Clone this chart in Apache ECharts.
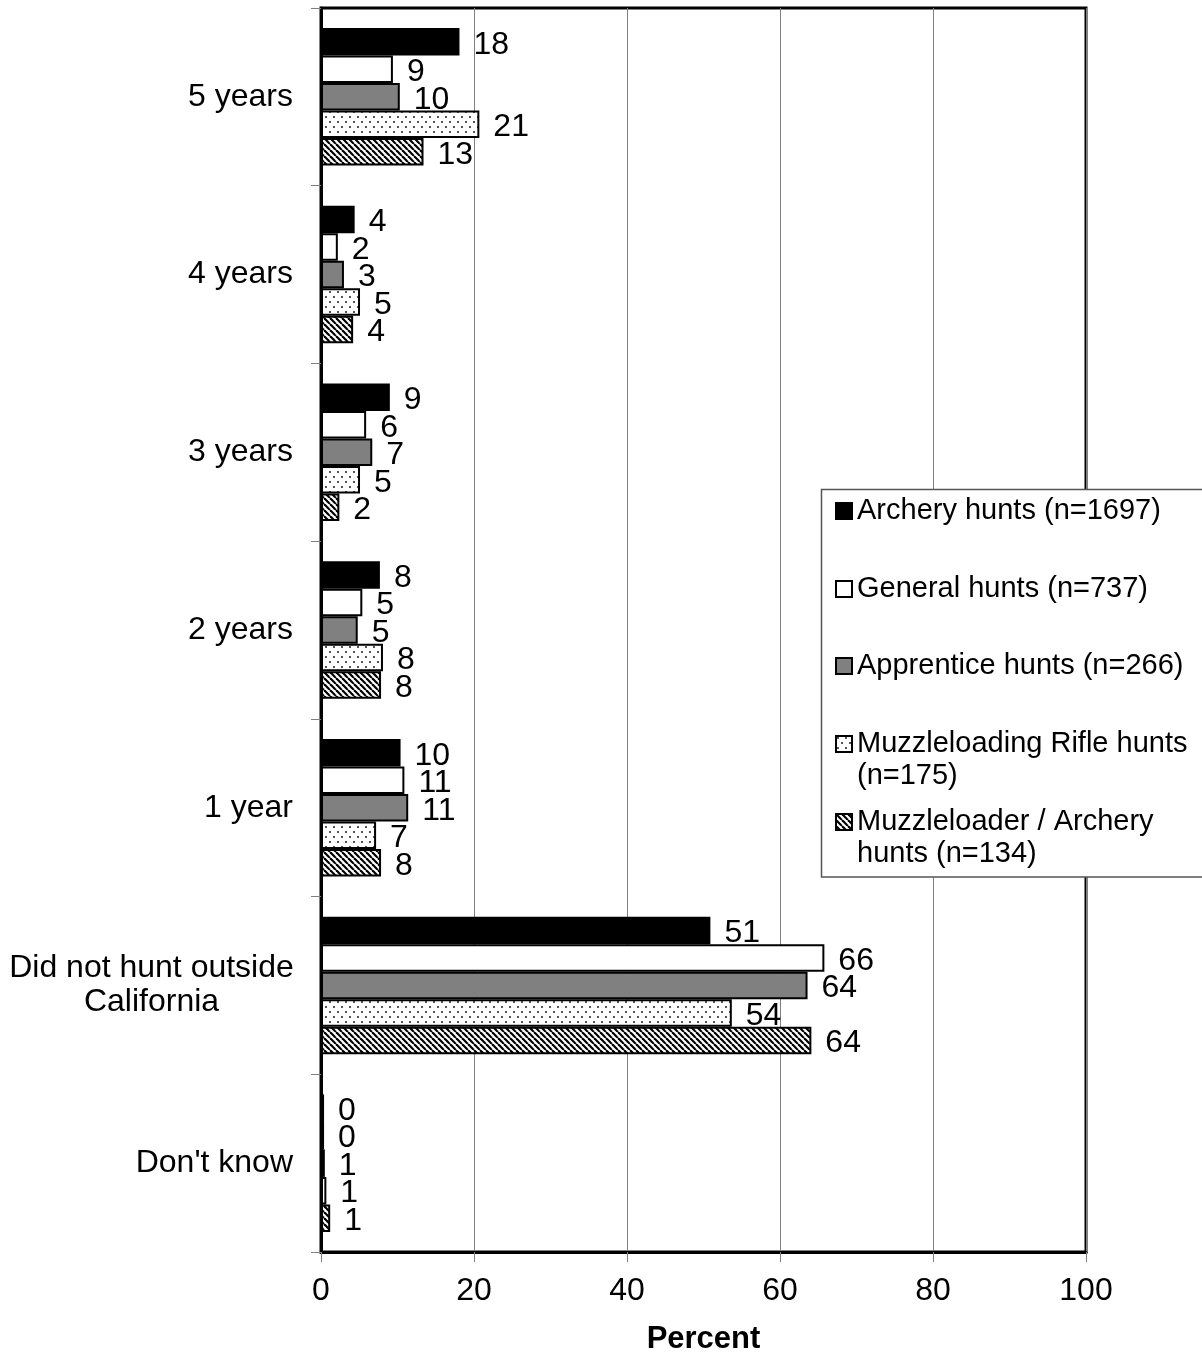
<!DOCTYPE html>
<html>
<head>
<meta charset="utf-8">
<script src="https://cdn.jsdelivr.net/npm/echarts@6/dist/echarts.min.js"></script>
<style>
  html, body { margin: 0; padding: 0; background: #fff; }
  #chart { width: 1202px; height: 1353px; }
</style>
</head>
<body>
<div id="chart"></div>
<script>
// categories top to bottom
var categories = ['5 years', '4 years', '3 years', '2 years', '1 year', 'Did not hunt outside\nCalifornia', "Don't know"];
var seriesNames = ['Archery hunts (n=1697)', 'General hunts (n=737)', 'Apprentice hunts (n=266)',
    'Muzzleloading Rifle hunts\n(n=175)', 'Muzzleloader / Archery\nhunts (n=134)'];
// percent values
var archery     = [18.1, 4.4, 9.0, 7.7, 10.4, 50.9, 0.4];
var general     = [9.4, 2.2, 5.9, 5.4, 10.9, 65.8, 0.4];
var apprentice  = [10.3, 3.0, 6.7, 4.8, 11.4, 63.6, 0.5];
var muzzRifle   = [20.7, 5.1, 5.1, 8.1, 7.2, 53.7, 0.7];
var muzzArchery = [13.4, 4.2, 2.4, 7.85, 7.85, 64.1, 1.2];
var xTicks = [0, 20, 40, 60, 80, 100];

var font = "'Liberation Sans', Arial, Helvetica, sans-serif";

// dotted fill
function dotPattern() {
    var c = document.createElement('canvas');
    c.width = 8; c.height = 10;
    var ctx = c.getContext('2d');
    ctx.fillStyle = '#fff';
    ctx.fillRect(0, 0, 8, 10);
    ctx.fillStyle = '#555';
    ctx.fillRect(1, 1, 2, 2);
    ctx.fillRect(5, 6, 2, 2);
    return {image: c, repeat: 'repeat'};
}
// diagonal hatch fill (\\\)
function hatchPattern() {
    var c = document.createElement('canvas');
    c.width = 6; c.height = 6;
    var ctx = c.getContext('2d');
    ctx.fillStyle = '#fff';
    ctx.fillRect(0, 0, 6, 6);
    ctx.strokeStyle = '#000';
    ctx.lineWidth = 2.2;
    for (var k = -1; k <= 1; k++) {
        ctx.beginPath();
        ctx.moveTo(k * 6, 0);
        ctx.lineTo(k * 6 + 6, 6);
        ctx.stroke();
    }
    return {image: c, repeat: 'repeat'};
}

var fills = ['#000000', '#ffffff', '#808080', dotPattern(), hatchPattern()];
var values = [archery, general, apprentice, muzzRifle, muzzArchery];

var myChart = echarts.init(document.getElementById('chart'));

// one legend per entry so that the two-line entries keep the square on their first line
var legendTops = [495, 573, 650, 728, 806];
var legends = seriesNames.map(function (n, i) {
    var twoLines = n.indexOf('\n') >= 0;
    return {
        data: [n],
        left: 835,
        top: legendTops[i],
        padding: 0,
        itemWidth: 16,
        itemHeight: twoLines ? 48 : 16,
        itemGap: 0,
        // square at the top of a taller icon box
        icon: twoLines ? 'path://M0,0L16,0L16,16L0,16Z M0,48L0,48' : 'rect',
        selectedMode: false,
        textStyle: {
            fontFamily: font,
            fontSize: 29,
            lineHeight: 32,
            color: '#000'
        }
    };
});

var series = values.map(function (v, i) {
    return {
        name: seriesNames[i],
        type: 'bar',
        data: v,
        barWidth: 27.5,
        barGap: '0%',
        itemStyle: {
            color: fills[i],
            borderColor: '#000',
            borderWidth: 2
        },
        label: {
            show: true,
            position: 'right',
            distance: 14,
            offset: [0, 3],
            fontFamily: font,
            fontSize: 32,
            color: '#000',
            formatter: function (p) { return Math.round(p.value); }
        },
        emphasis: {disabled: true}
    };
});

var option = {
    animation: false,
    textStyle: {fontFamily: font},
    grid: {
        left: 321,
        right: 116,
        top: 8,
        bottom: 101,
        outerBoundsMode: 'none',
        containLabel: false,
        show: true,
        borderColor: '#000',
        borderWidth: 3,
        backgroundColor: 'transparent'
    },
    legend: legends,
    graphic: {
        elements: [{
            type: 'rect',
            z: 3,
            shape: {x: 821.5, y: 489.5, width: 400, height: 387.5},
            style: {fill: '#fff', stroke: '#555', lineWidth: 1.5}
        }]
    },
    xAxis: {
        type: 'value',
        min: xTicks[0],
        max: xTicks[xTicks.length - 1],
        interval: xTicks[1] - xTicks[0],
        name: 'Percent',
        nameLocation: 'middle',
        nameGap: 72,
        nameTextStyle: {fontFamily: font, fontSize: 31, fontWeight: 'bold', color: '#000'},
        axisLine: {show: true, lineStyle: {color: '#000', width: 3}},
        axisTick: {show: true, length: 10, lineStyle: {color: '#808080', width: 1}},
        axisLabel: {fontFamily: font, fontSize: 32, color: '#000', margin: 23},
        splitLine: {show: true, lineStyle: {color: '#808080', width: 1}}
    },
    yAxis: {
        type: 'category',
        inverse: true,
        data: categories,
        axisLine: {show: true, lineStyle: {color: '#000', width: 3}},
        axisTick: {show: true, length: 10, lineStyle: {color: '#808080', width: 1}},
        splitLine: {show: false},
        axisLabel: {
            interval: 0,
            fontFamily: font,
            fontSize: 32,
            color: '#000',
            margin: 28,
            lineHeight: 34,
            formatter: function (v) {
                if (v.indexOf('\n') < 0) return v;
                return v.split('\n').map(function (s) { return '{c|' + s + '}'; }).join('\n');
            },
            rich: {
                c: {width: 283, align: 'center', fontFamily: font, fontSize: 32, lineHeight: 34, color: '#000'}
            }
        }
    },
    series: series
};

myChart.setOption(option);
</script>
</body>
</html>
